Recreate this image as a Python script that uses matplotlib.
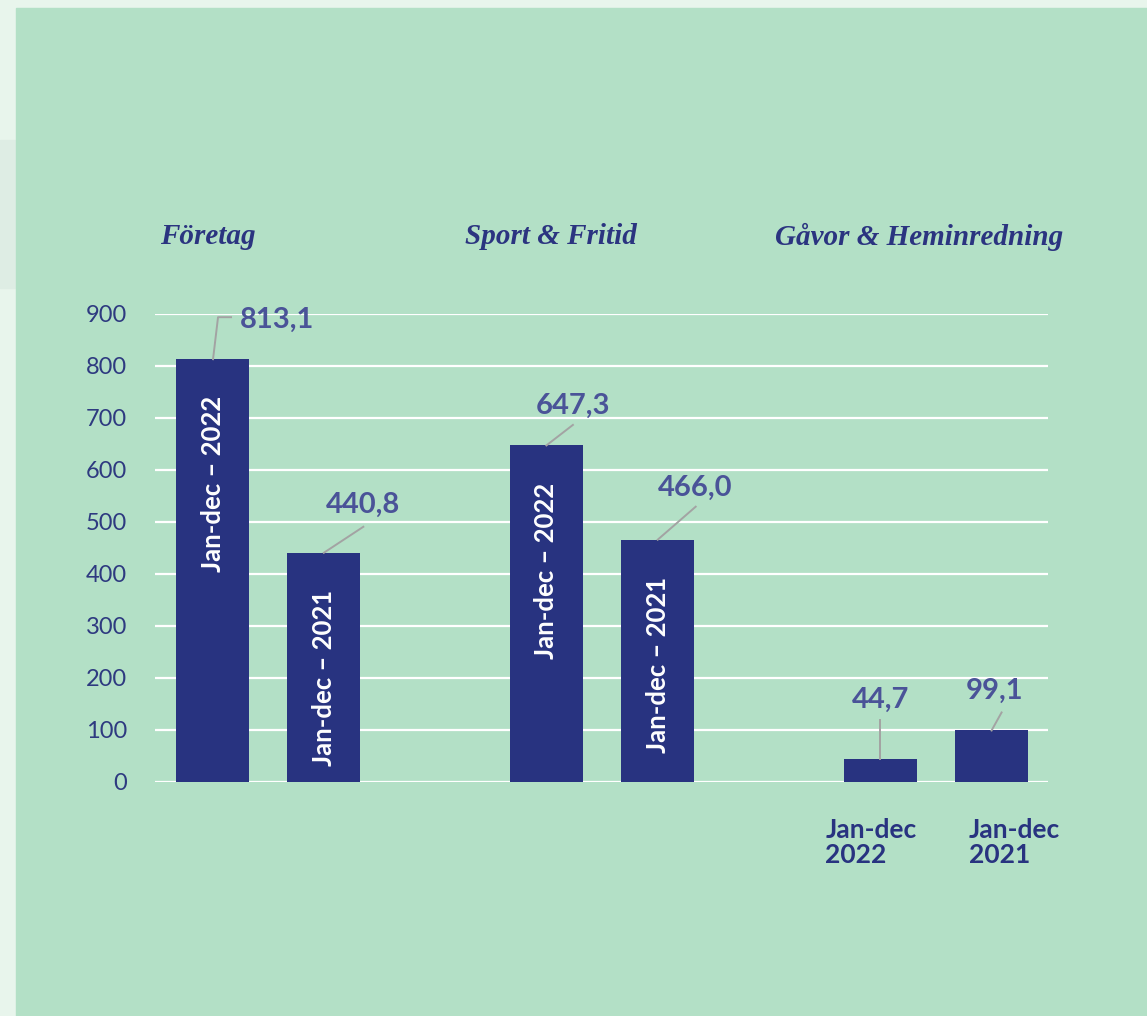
import matplotlib
matplotlib.use('Agg')
import matplotlib.pyplot as plt
from matplotlib.patches import Rectangle

# data
groups = ['Företag', 'Sport & Fritid', 'Gåvor & Heminredning']
periods = ['Jan-dec – 2022', 'Jan-dec – 2021']
values = [813.1, 440.8, 647.3, 466.0, 44.7, 99.1]
value_labels = ['813,1', '440,8', '647,3', '466,0', '44,7', '99,1']
positions = [0, 1, 3, 4, 6, 7]
yticks = [0, 100, 200, 300, 400, 500, 600, 700, 800, 900]

navy = '#283380'
label_col = '#4a5398'
green = '#b3e0c6'
pale = '#e8f5ec'

plt.rcParams['font.family'] = ['Lato', 'DejaVu Sans']

fig = plt.figure(figsize=(11.47, 10.16), dpi=100)
fig.patch.set_facecolor(pale)
# faint shape at the left edge and the green panel
fig.patches.append(Rectangle((0, 1 - 288/1016), 16/1147, 148/1016,
                             transform=fig.transFigure, color='#deede4', zorder=-5))
fig.patches.append(Rectangle((16/1147, 0), 1, 1 - 8/1016,
                             transform=fig.transFigure, color=green, zorder=-5))

ax = fig.add_axes([155/1147, 1 - 782/1016, 893/1147, 468/1016])
ax.set_facecolor('none')
ax.set_xlim(-0.517, 7.507)
ax.set_ylim(0, 900)
for s in ax.spines.values():
    s.set_visible(False)
ax.set_xticks([])
ax.set_yticks(yticks)
ax.set_yticklabels([str(t) for t in yticks], fontsize=17, color='#2e3a80')
ax.tick_params(axis='y', length=0, pad=20)
for t in yticks:
    ax.axhline(t, color='white', lw=1.6, zorder=1)

bars = ax.bar(positions, values, width=0.656, color=navy, zorder=2)

# leader lines (pixel offsets from bar top) and label offsets
leaders = [[(0.5, 0), (5.5, 42), (18.5, 42)],
           [(0, 0), (39.5, 26)],
           [(0, 0), (26.5, 20.5)],
           [(0, 0), (38, 33)],
           [(0, 0), (0, 39)],
           [(0, 0), (10, 18)]]
text_off = [(27, 39, 'left'), (39.5, 48, 'center'), (26.5, 40, 'center'),
            (37, 52, 'center'), (0, 59, 'center'), (2.5, 40, 'center')]

for i, (x, v) in enumerate(zip(positions, values)):
    bx, by = ax.transData.transform((x, v))
    pts = [ax.transData.inverted().transform((bx + dx, by + dy)) for dx, dy in leaders[i]]
    ax.plot([p[0] for p in pts], [p[1] for p in pts], color='#a3a3a3', lw=1.4,
            clip_on=False, zorder=3)
    dx, dy, ha = text_off[i]
    ax.annotate(value_labels[i], (x, v), xytext=(dx, dy), textcoords='offset pixels',
                ha=ha, va='center', fontsize=21, fontweight='bold', color=label_col,
                annotation_clip=False)

# period text inside the tall bars
for i in range(4):
    ax.annotate(periods[i % 2], (positions[i], values[i]), xytext=(0, -37),
                textcoords='offset pixels', rotation=90, ha='center', va='top',
                fontsize=18.5, fontweight='bold', color='white')

# period text under the small bars
under_off = [-55, -22.5]
for i in (4, 5):
    ax.annotate(periods[i % 2].replace(' – ', '\n'), (positions[i], 0),
                xytext=(under_off[i - 4], -36), textcoords='offset pixels',
                ha='left', va='top', fontsize=19, fontweight='bold', color=navy,
                linespacing=1.05, annotation_clip=False)

# group titles
title_x = [160, 465, 775]
for name, tx in zip(groups, title_x):
    fig.text(tx/1147, 1 - 237/1016, name, ha='left', va='center',
             family='Liberation Serif', style='italic', fontweight='bold',
             fontsize=21, color='#2b3480')

fig.savefig('out.png', dpi=100, facecolor=fig.get_facecolor())
